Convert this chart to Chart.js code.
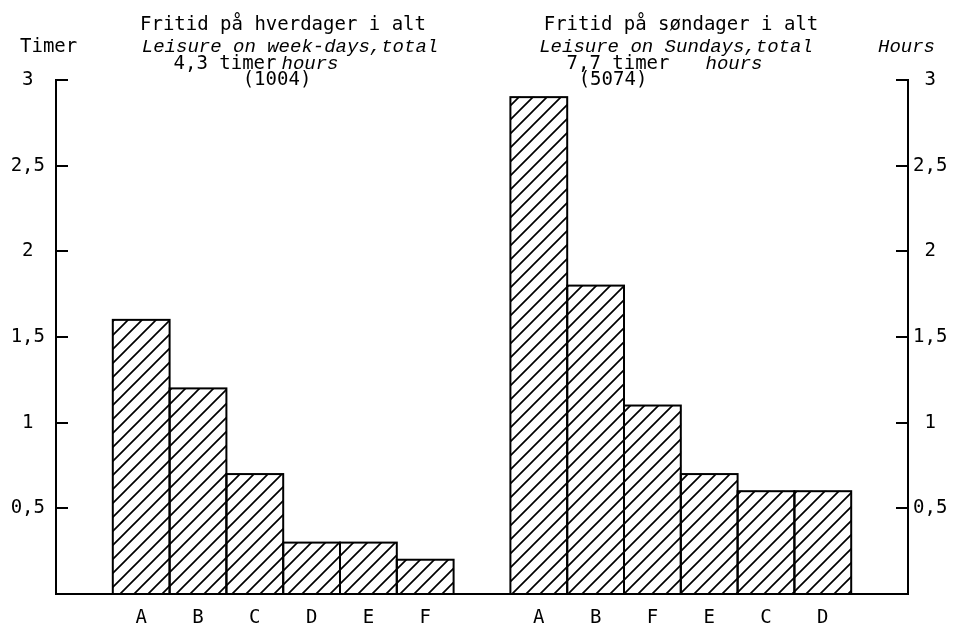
<!DOCTYPE html>
<html>
<head>
<meta charset="utf-8">
<script src="https://cdn.jsdelivr.net/npm/chart.js@4"></script>
<style>
  body { margin: 0; background: #fff; }
  #wrap { width: 954px; height: 627px; }
</style>
</head>
<body>
<div id="wrap"><canvas id="chart" width="954" height="627"></canvas></div>
<script>
// Leisure time per activity, week-days vs Sundays (hours)
const weekdayLabels = ['A', 'B', 'C', 'D', 'E', 'F'];
const weekdayHours = [1.6, 1.2, 0.7, 0.3, 0.3, 0.2];
const sundayLabels = ['A', 'B', 'F', 'E', 'C', 'D'];
const sundayHours = [2.9, 1.8, 1.1, 0.7, 0.6, 0.6];
const tickValues = [0.5, 1, 1.5, 2, 2.5, 3];
const tickLabels = ['0,5', '1', '1,5', '2', '2,5', '3'];

// empty slot before, between and after the two groups
const labels = ['', ...weekdayLabels, '', ...sundayLabels, ''];
const values = [null, ...weekdayHours, null, ...sundayHours, null];

const MONO = '"DejaVu Sans Mono", monospace';
const ITAL = '"Liberation Mono", "DejaVu Sans Mono", monospace';
Chart.defaults.font.family = MONO;
Chart.defaults.color = '#000';

const canvas = document.getElementById('chart');
const ctx = canvas.getContext('2d');

// diagonal hatch fill
function makeHatch() {
    const s = 14;
    const c = document.createElement('canvas');
    c.width = s; c.height = s;
    const g = c.getContext('2d');
    g.fillStyle = '#fff';
    g.fillRect(0, 0, s, s);
    g.strokeStyle = '#000';
    g.lineWidth = 1.7;
    g.beginPath();
    g.moveTo(-2, s + 2); g.lineTo(s + 2, -2);
    g.moveTo(-2, 2); g.lineTo(2, -2);
    g.moveTo(s - 2, s + 2); g.lineTo(s + 2, s - 2);
    g.stroke();
    return ctx.createPattern(c, 'repeat');
}

function setTicks(axis) {
    axis.ticks = tickValues.map(v => ({ value: v }));
}

// bar outlines (shared edges drawn once) and inward tick marks
const outlines = {
    id: 'outlines',
    afterDatasetsDraw(chart) {
        const c = chart.ctx;
        c.save();
        c.strokeStyle = '#000';
        c.lineWidth = 2;
        chart.getDatasetMeta(0).data.forEach((bar, i) => {
            if (values[i] == null) return;
            const p = bar.getProps(['x', 'y', 'base', 'width'], true);
            c.strokeRect(p.x - p.width / 2, p.y, p.width, p.base - p.y);
        });
        [['y', 1], ['y2', -1]].forEach(([id, dir]) => {
            const sc = chart.scales[id];
            const x0 = id === 'y' ? sc.right : sc.left;
            tickValues.forEach(v => {
                const y = Math.round(sc.getPixelForValue(v));
                c.beginPath();
                c.moveTo(x0, y);
                c.lineTo(x0 + dir * 12, y);
                c.stroke();
            });
        });
        c.restore();
    }
};

// headings above each group and axis units
const headings = {
    id: 'headings',
    afterDraw(chart) {
        const c = chart.ctx;
        c.save();
        c.fillStyle = '#000';
        c.textBaseline = 'middle';
        const put = (txt, x, y, font, align) => {
            c.font = font;
            c.textAlign = align || 'center';
            c.fillText(txt, x, y);
        };
        const reg = '19px ' + MONO;
        const it = 'italic 19px ' + ITAL;

        put('Fritid på hverdager i alt', 283, 25, reg);
        put('Leisure on week-days,total', 290, 47, it);
        put('4,3 timer', 225, 64, reg);
        put('hours', 310, 64, it);
        put('(1004)', 277, 80, reg);

        put('Fritid på søndager i alt', 681, 25, reg);
        put('Leisure on Sundays,total', 676, 47, it);
        put('7,7 timer', 618, 64, reg);
        put('hours', 734, 64, it);
        put('(5074)', 613, 80, reg);

        put('Timer', 20, 47, reg, 'left');
        put('Hours', 935, 47, it, 'right');
        c.restore();
    }
};

new Chart(ctx, {
    type: 'bar',
    data: {
        labels: labels,
        datasets: [{
            data: values,
            backgroundColor: makeHatch(),
            borderWidth: 0,
            barPercentage: 1,
            categoryPercentage: 1
        }]
    },
    options: {
        responsive: false,
        animation: false,
        layout: { padding: { top: 80, left: 0, right: 0, bottom: 0 } },
        plugins: {
            legend: { display: false },
            tooltip: { enabled: false }
        },
        scales: {
            x: {
                grid: { display: false, drawTicks: false },
                border: { display: true, color: '#000', width: 2 },
                ticks: { font: { size: 19 }, padding: 13, maxRotation: 0, autoSkip: false },
                afterFit: (s) => { s.height = 33; }
            },
            y: {
                position: 'left',
                min: 0, max: 3,
                afterBuildTicks: setTicks,
                grid: { drawOnChartArea: false, drawTicks: false },
                border: { display: true, color: '#000', width: 2 },
                ticks: {
                    font: { size: 19 }, padding: 11, crossAlign: 'center',
                    callback: (v) => tickLabels[tickValues.indexOf(v)]
                },
                afterFit: (s) => { s.width = 56; }
            },
            y2: {
                position: 'right',
                min: 0, max: 3,
                afterBuildTicks: setTicks,
                grid: { drawOnChartArea: false, drawTicks: false },
                border: { display: true, color: '#000', width: 2 },
                ticks: {
                    font: { size: 19 }, padding: 5, crossAlign: 'center',
                    callback: (v) => tickLabels[tickValues.indexOf(v)]
                },
                afterFit: (s) => { s.width = 46; }
            }
        }
    },
    plugins: [outlines, headings]
});
</script>
</body>
</html>
